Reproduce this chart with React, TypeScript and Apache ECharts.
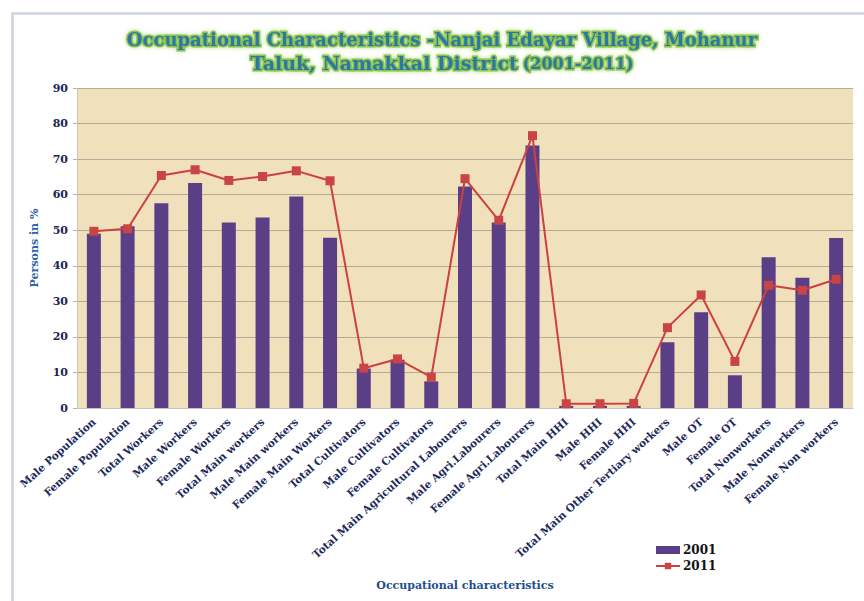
import React, { useEffect, useRef } from "react";
import * as echarts from "echarts";

// Occupational categories along the x axis
const categories = [
  "Male Population",
  "Female Population",
  "Total Workers",
  "Male Workers",
  "Female Workers",
  "Total Main workers",
  "Male Main workers",
  "Female Main Workers",
  "Total Cultivators",
  "Male Cultivators",
  "Female Cultivators",
  "Total Main Agricultural Labourers",
  "Male Agri.Labourers",
  "Female Agri.Labourers",
  "Total Main HHI",
  "Male HHI",
  "Female HHI",
  "Total Main Other Tertiary workers",
  "Male OT",
  "Female OT",
  "Total Nonworkers",
  "Male Nonworkers",
  "Female Non workers",
];

// Persons in % — census 2001 (bars)
const values2001 = [
  49.0, 51.1, 57.6, 63.3, 52.2, 53.6, 59.5, 47.9, 11.1, 13.6, 7.5, 62.3, 52.2,
  73.8, 0.6, 0.6, 0.6, 18.5, 26.9, 9.2, 42.4, 36.6, 47.8,
];

// Persons in % — census 2011 (line)
const values2011 = [
  49.7, 50.4, 65.4, 67.0, 64.0, 65.1, 66.7, 63.9, 11.2, 13.8, 8.7, 64.5, 52.8,
  76.6, 1.2, 1.2, 1.3, 22.6, 31.8, 13.1, 34.5, 33.1, 36.2,
];

const seriesNames = ["2001", "2011"];

const yMin = 0;
const yMax = 90;
const yInterval = 10;

const SERIF = "'DejaVu Serif', 'Liberation Serif', serif";

// glowing heading style: teal fill, green halo
const glow = {
  fontFamily: SERIF,
  fontWeight: "bold" as const,
  color: "#2b78a4",
  textBorderColor: "#8cc24e",
  textBorderWidth: 3,
  textShadowColor: "rgba(175,215,125,0.9)",
  textShadowBlur: 4,
};

export default function App() {
  const ref = useRef<HTMLDivElement>(null);

  useEffect(() => {
    document.body.style.margin = "0";
    const chart = echarts.init(ref.current!, null, { renderer: "svg" });

    chart.setOption({
      animation: false,
      backgroundColor: "#ffffff",
      graphic: [
        {
          type: "rect",
          left: 10,
          top: 11,
          shape: { x: 0, y: 0, width: 860, height: 600 },
          style: { fill: "none", stroke: "#cbd2e2", lineWidth: 2.5 },
          silent: true,
          z: -1,
        },
      ],
      title: {
        text: "{a|Occupational Characteristics -Nanjai Edayar Village, Mohanur}\n{c|Taluk, Namakkal District} {b|(2001-2011)}",
        left: 437,
        top: 22,
        textAlign: "center",
        textStyle: {
          rich: {
            a: { ...glow, fontSize: 18, lineHeight: 24 },
            c: { ...glow, fontSize: 19, lineHeight: 24 },
            b: { ...glow, fontSize: 16, lineHeight: 24 },
          },
        },
      },
      grid: {
        left: 77,
        right: 11,
        top: 88,
        bottom: 193,
        show: true,
        backgroundColor: "#f0e0bb",
        borderWidth: 0,
      },
      legend: {
        orient: "vertical",
        left: 650,
        top: 539,
        itemWidth: 24,
        itemHeight: 8,
        itemGap: 4,
        data: [
          { name: seriesNames[0], icon: "rect", itemStyle: { color: "#5b3f86" } },
          { name: seriesNames[1] },
        ],
        textStyle: {
          fontFamily: SERIF,
          fontWeight: "bold",
          fontSize: 12,
          color: "#111111",
          padding: [0, 0, 0, -2],
        },
      },
      xAxis: {
        type: "category",
        data: categories,
        name: "Occupational characteristics",
        nameLocation: "middle",
        nameGap: 172,
        nameTextStyle: {
          fontFamily: SERIF,
          fontWeight: "bold",
          fontSize: 11,
          color: "#1f4f8c",
        },
        axisLine: { show: true, lineStyle: { color: "#c8c3bb", width: 1 } },
        axisTick: { show: false },
        axisLabel: {
          interval: 0,
          rotate: 42,
          margin: 12,
          fontFamily: SERIF,
          fontWeight: "bold",
          fontSize: 10.6,
          color: "#1d2a5c",
        },
      },
      yAxis: {
        type: "value",
        min: yMin,
        max: yMax,
        interval: yInterval,
        name: "Persons in %",
        nameLocation: "middle",
        nameGap: 37,
        nameRotate: 90,
        nameTextStyle: {
          fontFamily: SERIF,
          fontWeight: "bold",
          fontSize: 11,
          color: "#2e64a8",
        },
        axisLine: { show: true, lineStyle: { color: "#c8c3bb", width: 1 } },
        axisTick: { show: true, length: 4, lineStyle: { color: "#b9b3aa" } },
        axisLabel: {
          margin: 9,
          fontFamily: SERIF,
          fontWeight: "bold",
          fontSize: 11,
          color: "#1a2452",
        },
        splitLine: { show: true, lineStyle: { color: "#b4aa98", width: 1 } },
      },
      series: [
        {
          name: seriesNames[0],
          type: "bar",
          data: values2001,
          barWidth: 14,
          itemStyle: { color: "#5b3f86" },
          z: 2,
        },
        {
          name: seriesNames[1],
          type: "line",
          data: values2011,
          symbol: "rect",
          symbolSize: 9,
          lineStyle: { color: "#cc4040", width: 2 },
          itemStyle: { color: "#c94444" },
          z: 3,
        },
      ],
    });

    return () => chart.dispose();
  }, []);

  return <div ref={ref} style={{ width: 864, height: 601 }} />;
}
